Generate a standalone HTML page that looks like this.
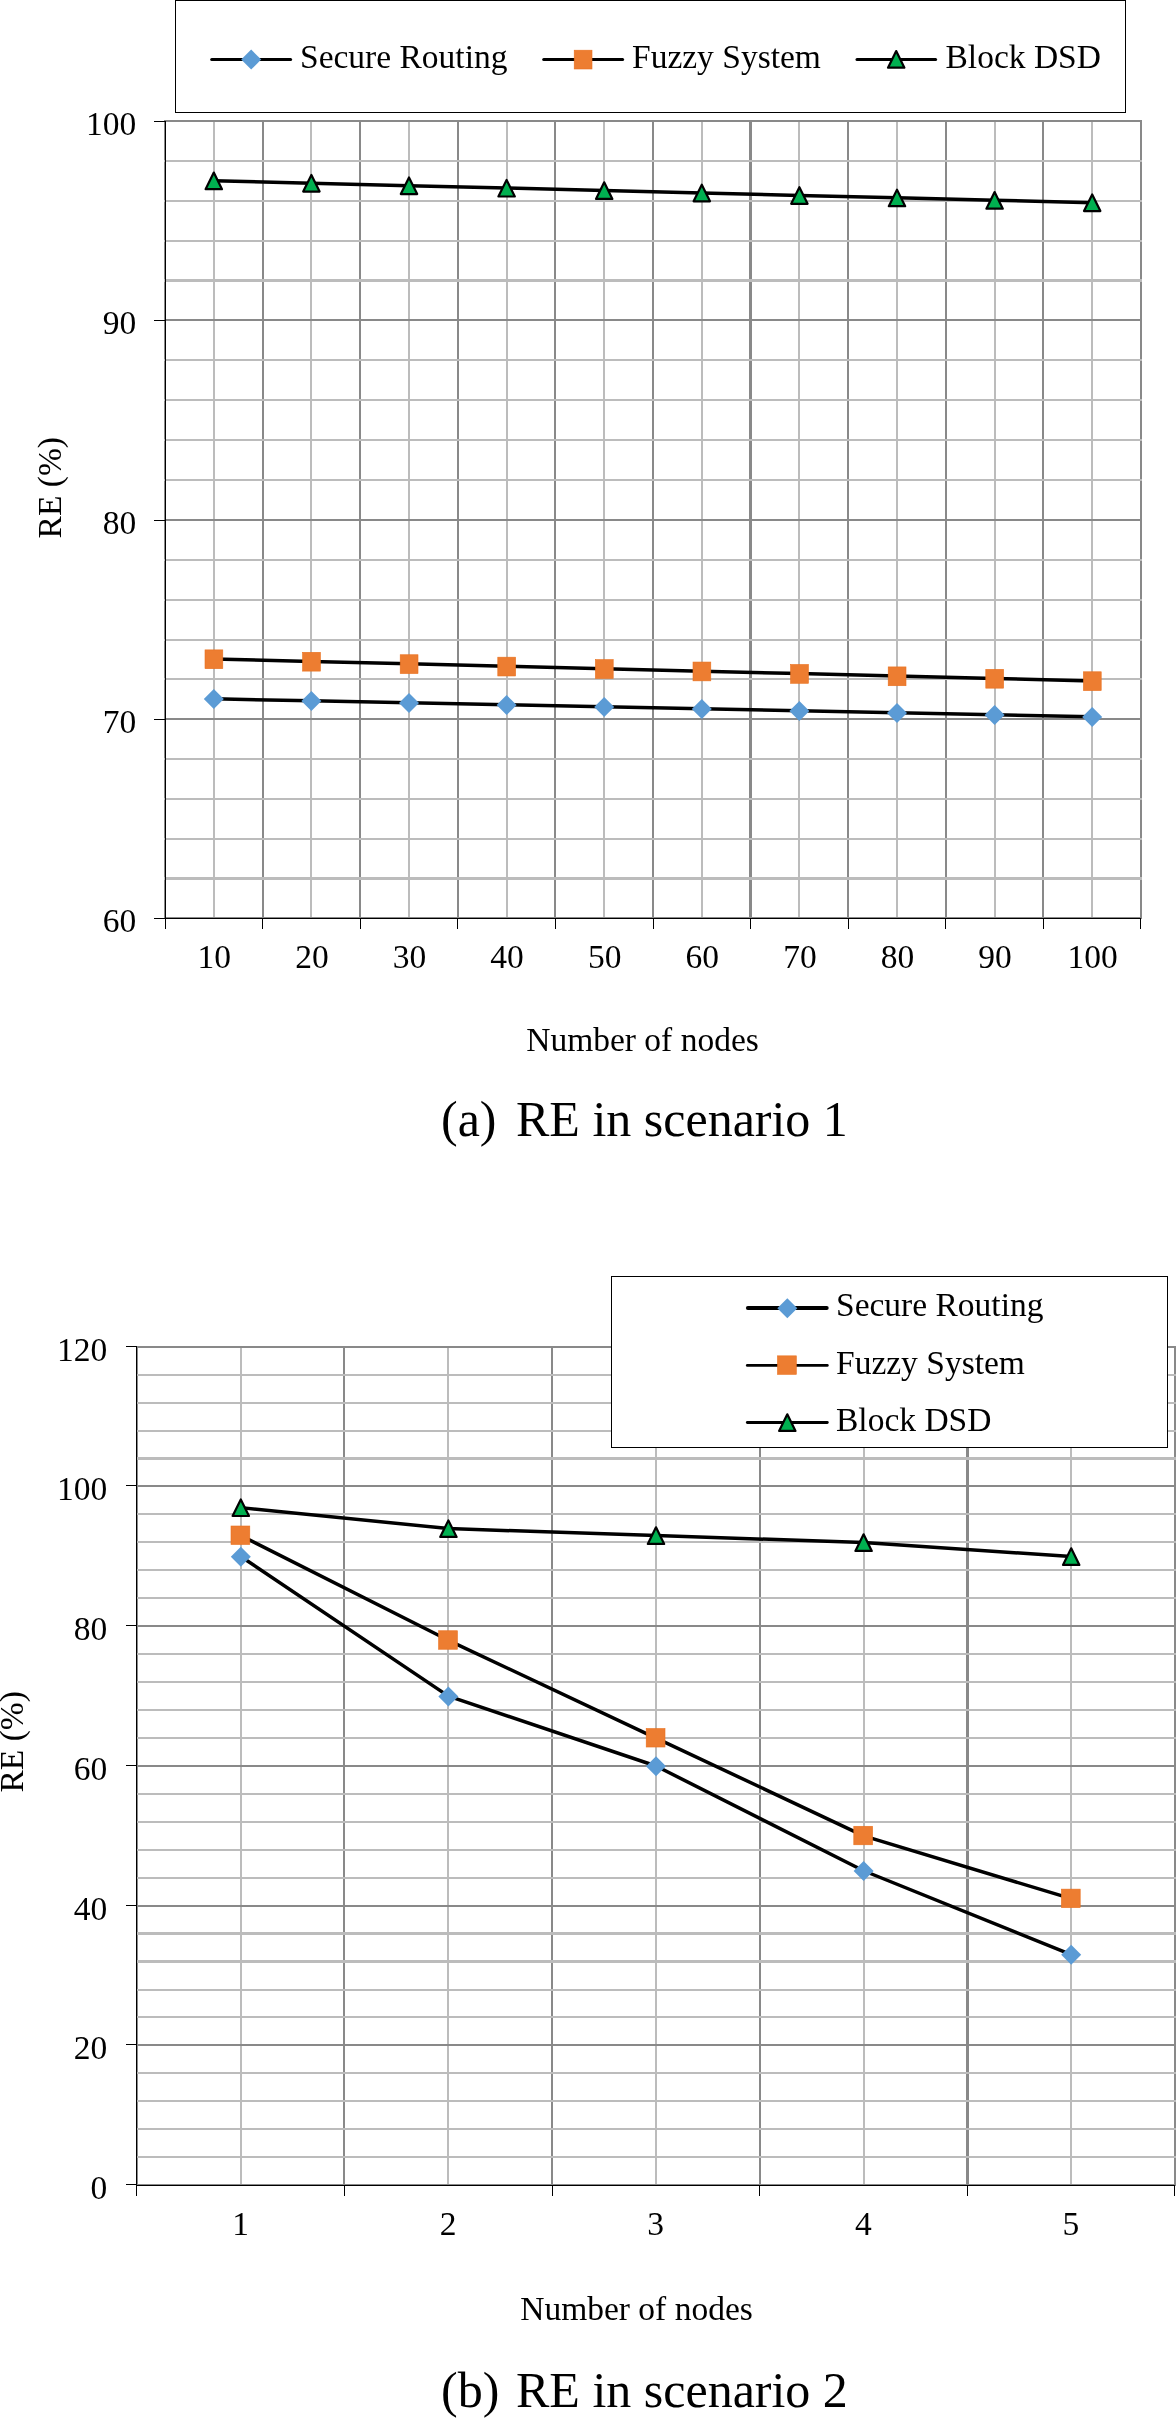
<!DOCTYPE html>
<html><head><meta charset="utf-8"><title>RE charts</title>
<style>html,body{margin:0;padding:0;background:#fff;width:1176px;height:2418px;overflow:hidden}svg{display:block;will-change:transform}text{font-family:"Liberation Serif",serif}</style>
</head><body>
<svg width="1176" height="2418" viewBox="0 0 1176 2418">
<rect width="1176" height="2418" fill="#fff"/>
<g font-family='"Liberation Serif", serif' fill="#000">
<rect x="213" y="120" width="2" height="798" fill="#bcbcbc"/>
<rect x="310" y="120" width="2" height="798" fill="#bcbcbc"/>
<rect x="408" y="120" width="2" height="798" fill="#bcbcbc"/>
<rect x="506" y="120" width="2" height="798" fill="#bcbcbc"/>
<rect x="603" y="120" width="2" height="798" fill="#bcbcbc"/>
<rect x="701" y="120" width="2" height="798" fill="#bcbcbc"/>
<rect x="798" y="120" width="2" height="798" fill="#bcbcbc"/>
<rect x="896" y="120" width="2" height="798" fill="#bcbcbc"/>
<rect x="994" y="120" width="2" height="798" fill="#bcbcbc"/>
<rect x="1091" y="120" width="2" height="798" fill="#bcbcbc"/>
<rect x="164" y="120" width="2" height="798" fill="#898989"/>
<rect x="262" y="120" width="2" height="798" fill="#898989"/>
<rect x="359" y="120" width="2" height="798" fill="#898989"/>
<rect x="457" y="120" width="2" height="798" fill="#898989"/>
<rect x="554" y="120" width="2" height="798" fill="#898989"/>
<rect x="652" y="120" width="2" height="798" fill="#898989"/>
<rect x="749" y="120" width="3" height="798" fill="#898989"/>
<rect x="847" y="120" width="2" height="798" fill="#898989"/>
<rect x="945" y="120" width="2" height="798" fill="#898989"/>
<rect x="1042" y="120" width="2" height="798" fill="#898989"/>
<rect x="1140" y="120" width="2" height="798" fill="#898989"/>
<rect x="164" y="160" width="978" height="2" fill="#bcbcbc"/>
<rect x="164" y="200" width="978" height="2" fill="#bcbcbc"/>
<rect x="164" y="240" width="978" height="2" fill="#bcbcbc"/>
<rect x="164" y="279" width="978" height="3" fill="#bcbcbc"/>
<rect x="164" y="359" width="978" height="2" fill="#bcbcbc"/>
<rect x="164" y="399" width="978" height="2" fill="#bcbcbc"/>
<rect x="164" y="439" width="978" height="2" fill="#bcbcbc"/>
<rect x="164" y="479" width="978" height="2" fill="#bcbcbc"/>
<rect x="164" y="559" width="978" height="2" fill="#bcbcbc"/>
<rect x="164" y="599" width="978" height="2" fill="#bcbcbc"/>
<rect x="164" y="639" width="978" height="2" fill="#bcbcbc"/>
<rect x="164" y="678" width="978" height="2" fill="#bcbcbc"/>
<rect x="164" y="758" width="978" height="2" fill="#bcbcbc"/>
<rect x="164" y="798" width="978" height="2" fill="#bcbcbc"/>
<rect x="164" y="838" width="978" height="2" fill="#bcbcbc"/>
<rect x="164" y="877" width="978" height="3" fill="#bcbcbc"/>
<rect x="164" y="120" width="978" height="2" fill="#898989"/>
<rect x="164" y="319" width="978" height="2" fill="#898989"/>
<rect x="164" y="519" width="978" height="2" fill="#898989"/>
<rect x="164" y="718" width="978" height="2" fill="#898989"/>
<rect x="164" y="917" width="978" height="2" fill="#898989"/>
<rect x="165" y="121" width="1" height="798" fill="#000"/>
<rect x="165" y="918" width="976" height="1" fill="#000"/>
<rect x="154" y="121" width="11" height="1" fill="#000"/>
<rect x="154" y="320" width="11" height="1" fill="#000"/>
<rect x="154" y="520" width="11" height="1" fill="#000"/>
<rect x="154" y="719" width="11" height="1" fill="#000"/>
<rect x="154" y="918" width="11" height="1" fill="#000"/>
<rect x="165" y="918" width="1" height="11" fill="#000"/>
<rect x="262" y="918" width="1" height="11" fill="#000"/>
<rect x="360" y="918" width="1" height="11" fill="#000"/>
<rect x="457" y="918" width="1" height="11" fill="#000"/>
<rect x="555" y="918" width="1" height="11" fill="#000"/>
<rect x="653" y="918" width="1" height="11" fill="#000"/>
<rect x="750" y="918" width="1" height="11" fill="#000"/>
<rect x="848" y="918" width="1" height="11" fill="#000"/>
<rect x="945" y="918" width="1" height="11" fill="#000"/>
<rect x="1043" y="918" width="1" height="11" fill="#000"/>
<rect x="1140" y="918" width="1" height="11" fill="#000"/>
<polyline points="213.80,698.83 311.40,700.82 409.00,702.81 506.60,704.80 604.20,706.80 701.80,708.79 799.40,710.78 897.00,712.77 994.60,714.77 1092.20,716.76" fill="none" stroke="#000" stroke-width="3.5" stroke-linejoin="round" stroke-linecap="round"/>
<polyline points="213.80,658.98 311.40,661.41 409.00,663.85 506.60,666.28 604.20,668.72 701.80,671.15 799.40,673.59 897.00,676.02 994.60,678.46 1092.20,680.89" fill="none" stroke="#000" stroke-width="3.5" stroke-linejoin="round" stroke-linecap="round"/>
<polyline points="213.80,180.77 311.40,183.21 409.00,185.65 506.60,188.08 604.20,190.52 701.80,192.95 799.40,195.39 897.00,197.82 994.60,200.26 1092.20,202.69" fill="none" stroke="#000" stroke-width="3.5" stroke-linejoin="round" stroke-linecap="round"/>
<path d="M213.80 689.12L223.80 699.12L213.80 709.12L203.80 699.12Z" fill="#5b9bd5"/>
<path d="M311.40 691.12L321.40 701.12L311.40 711.12L301.40 701.12Z" fill="#5b9bd5"/>
<path d="M409.00 693.11L419.00 703.11L409.00 713.11L399.00 703.11Z" fill="#5b9bd5"/>
<path d="M506.60 695.10L516.60 705.10L506.60 715.10L496.60 705.10Z" fill="#5b9bd5"/>
<path d="M604.20 697.10L614.20 707.10L604.20 717.10L594.20 707.10Z" fill="#5b9bd5"/>
<path d="M701.80 699.09L711.80 709.09L701.80 719.09L691.80 709.09Z" fill="#5b9bd5"/>
<path d="M799.40 701.08L809.40 711.08L799.40 721.08L789.40 711.08Z" fill="#5b9bd5"/>
<path d="M897.00 703.07L907.00 713.07L897.00 723.07L887.00 713.07Z" fill="#5b9bd5"/>
<path d="M994.60 705.07L1004.60 715.07L994.60 725.07L984.60 715.07Z" fill="#5b9bd5"/>
<path d="M1092.20 707.06L1102.20 717.06L1092.20 727.06L1082.20 717.06Z" fill="#5b9bd5"/>
<rect x="205.00" y="649.88" width="17.8" height="18.8" fill="#ed7d31" stroke="#e9711f" stroke-width="0.6"/>
<rect x="302.60" y="652.31" width="17.8" height="18.8" fill="#ed7d31" stroke="#e9711f" stroke-width="0.6"/>
<rect x="400.20" y="654.75" width="17.8" height="18.8" fill="#ed7d31" stroke="#e9711f" stroke-width="0.6"/>
<rect x="497.80" y="657.18" width="17.8" height="18.8" fill="#ed7d31" stroke="#e9711f" stroke-width="0.6"/>
<rect x="595.40" y="659.62" width="17.8" height="18.8" fill="#ed7d31" stroke="#e9711f" stroke-width="0.6"/>
<rect x="693.00" y="662.05" width="17.8" height="18.8" fill="#ed7d31" stroke="#e9711f" stroke-width="0.6"/>
<rect x="790.60" y="664.49" width="17.8" height="18.8" fill="#ed7d31" stroke="#e9711f" stroke-width="0.6"/>
<rect x="888.20" y="666.92" width="17.8" height="18.8" fill="#ed7d31" stroke="#e9711f" stroke-width="0.6"/>
<rect x="985.80" y="669.36" width="17.8" height="18.8" fill="#ed7d31" stroke="#e9711f" stroke-width="0.6"/>
<rect x="1083.40" y="671.79" width="17.8" height="18.8" fill="#ed7d31" stroke="#e9711f" stroke-width="0.6"/>
<path d="M213.80 172.57L222.00 189.17L205.60 189.17Z" fill="#00b050" stroke="#000" stroke-width="2.2" stroke-linejoin="round"/>
<path d="M311.40 175.01L319.60 191.61L303.20 191.61Z" fill="#00b050" stroke="#000" stroke-width="2.2" stroke-linejoin="round"/>
<path d="M409.00 177.45L417.20 194.05L400.80 194.05Z" fill="#00b050" stroke="#000" stroke-width="2.2" stroke-linejoin="round"/>
<path d="M506.60 179.88L514.80 196.48L498.40 196.48Z" fill="#00b050" stroke="#000" stroke-width="2.2" stroke-linejoin="round"/>
<path d="M604.20 182.32L612.40 198.92L596.00 198.92Z" fill="#00b050" stroke="#000" stroke-width="2.2" stroke-linejoin="round"/>
<path d="M701.80 184.75L710.00 201.35L693.60 201.35Z" fill="#00b050" stroke="#000" stroke-width="2.2" stroke-linejoin="round"/>
<path d="M799.40 187.19L807.60 203.79L791.20 203.79Z" fill="#00b050" stroke="#000" stroke-width="2.2" stroke-linejoin="round"/>
<path d="M897.00 189.62L905.20 206.22L888.80 206.22Z" fill="#00b050" stroke="#000" stroke-width="2.2" stroke-linejoin="round"/>
<path d="M994.60 192.06L1002.80 208.66L986.40 208.66Z" fill="#00b050" stroke="#000" stroke-width="2.2" stroke-linejoin="round"/>
<path d="M1092.20 194.49L1100.40 211.09L1084.00 211.09Z" fill="#00b050" stroke="#000" stroke-width="2.2" stroke-linejoin="round"/>
<text x="136.2" y="135.3" font-size="33.5" text-anchor="end">100</text>
<text x="136.2" y="334.3" font-size="33.5" text-anchor="end">90</text>
<text x="136.2" y="534.3" font-size="33.5" text-anchor="end">80</text>
<text x="136.2" y="733.3" font-size="33.5" text-anchor="end">70</text>
<text x="136.2" y="932.3" font-size="33.5" text-anchor="end">60</text>
<text x="214.3" y="967.5" font-size="33.5" text-anchor="middle">10</text>
<text x="311.9" y="967.5" font-size="33.5" text-anchor="middle">20</text>
<text x="409.5" y="967.5" font-size="33.5" text-anchor="middle">30</text>
<text x="507.1" y="967.5" font-size="33.5" text-anchor="middle">40</text>
<text x="604.7" y="967.5" font-size="33.5" text-anchor="middle">50</text>
<text x="702.3" y="967.5" font-size="33.5" text-anchor="middle">60</text>
<text x="799.9" y="967.5" font-size="33.5" text-anchor="middle">70</text>
<text x="897.5" y="967.5" font-size="33.5" text-anchor="middle">80</text>
<text x="995.1" y="967.5" font-size="33.5" text-anchor="middle">90</text>
<text x="1092.7" y="967.5" font-size="33.5" text-anchor="middle">100</text>
<text x="642.5" y="1051" font-size="33.5" text-anchor="middle">Number of nodes</text>
<text transform="translate(61 487.7) rotate(-90)" font-size="33.5" text-anchor="middle">RE (%)</text>
<rect x="175.5" y="0.5" width="950" height="112" fill="#fff" stroke="#000" stroke-width="1"/>
<line x1="211.7" y1="59.5" x2="290.6" y2="59.5" stroke="#000" stroke-width="3" stroke-linecap="round"/>
<path d="M251.20 49.60L261.20 59.60L251.20 69.60L241.20 59.60Z" fill="#5b9bd5"/>
<text x="300" y="67.5" font-size="33.5">Secure Routing</text>
<line x1="543.7" y1="59.5" x2="622.5999999999999" y2="59.5" stroke="#000" stroke-width="3" stroke-linecap="round"/>
<rect x="574.20" y="50.20" width="17.8" height="18.8" fill="#ed7d31" stroke="#e9711f" stroke-width="0.6"/>
<text x="632" y="67.5" font-size="33.5">Fuzzy System</text>
<line x1="857.0" y1="59.5" x2="935.5999999999999" y2="59.5" stroke="#000" stroke-width="3" stroke-linecap="round"/>
<path d="M896.20 51.10L904.40 67.70L888.00 67.70Z" fill="#00b050" stroke="#000" stroke-width="2.2" stroke-linejoin="round"/>
<text x="945.5" y="67.5" font-size="33.5">Block DSD</text>
<text x="441" y="1135.5" font-size="50">(a)</text>
<text x="516" y="1135.5" font-size="50">RE in scenario 1</text>
<rect x="240" y="1346" width="2" height="839" fill="#bcbcbc"/>
<rect x="447" y="1346" width="2" height="839" fill="#bcbcbc"/>
<rect x="655" y="1346" width="2" height="839" fill="#bcbcbc"/>
<rect x="863" y="1346" width="2" height="839" fill="#bcbcbc"/>
<rect x="1070" y="1346" width="2" height="839" fill="#bcbcbc"/>
<rect x="136" y="1346" width="2" height="839" fill="#898989"/>
<rect x="343" y="1346" width="2" height="839" fill="#898989"/>
<rect x="551" y="1346" width="2" height="839" fill="#898989"/>
<rect x="759" y="1346" width="2" height="839" fill="#898989"/>
<rect x="966" y="1346" width="3" height="839" fill="#898989"/>
<rect x="1174" y="1346" width="2" height="839" fill="#898989"/>
<rect x="136" y="1374" width="1040" height="2" fill="#bcbcbc"/>
<rect x="136" y="1402" width="1040" height="2" fill="#bcbcbc"/>
<rect x="136" y="1430" width="1040" height="2" fill="#bcbcbc"/>
<rect x="136" y="1457" width="1040" height="3" fill="#bcbcbc"/>
<rect x="136" y="1513" width="1040" height="2" fill="#bcbcbc"/>
<rect x="136" y="1541" width="1040" height="2" fill="#bcbcbc"/>
<rect x="136" y="1569" width="1040" height="2" fill="#bcbcbc"/>
<rect x="136" y="1597" width="1040" height="2" fill="#bcbcbc"/>
<rect x="136" y="1653" width="1040" height="2" fill="#bcbcbc"/>
<rect x="136" y="1681" width="1040" height="2" fill="#bcbcbc"/>
<rect x="136" y="1709" width="1040" height="2" fill="#bcbcbc"/>
<rect x="136" y="1737" width="1040" height="2" fill="#bcbcbc"/>
<rect x="136" y="1793" width="1040" height="2" fill="#bcbcbc"/>
<rect x="136" y="1821" width="1040" height="2" fill="#bcbcbc"/>
<rect x="136" y="1849" width="1040" height="2" fill="#bcbcbc"/>
<rect x="136" y="1877" width="1040" height="2" fill="#bcbcbc"/>
<rect x="136" y="1932" width="1040" height="3" fill="#bcbcbc"/>
<rect x="136" y="1960" width="1040" height="3" fill="#bcbcbc"/>
<rect x="136" y="1989" width="1040" height="2" fill="#bcbcbc"/>
<rect x="136" y="2016" width="1040" height="2" fill="#bcbcbc"/>
<rect x="136" y="2072" width="1040" height="2" fill="#bcbcbc"/>
<rect x="136" y="2100" width="1040" height="2" fill="#bcbcbc"/>
<rect x="136" y="2128" width="1040" height="2" fill="#bcbcbc"/>
<rect x="136" y="2156" width="1040" height="2" fill="#bcbcbc"/>
<rect x="136" y="1346" width="1040" height="2" fill="#898989"/>
<rect x="136" y="1485" width="1040" height="2" fill="#898989"/>
<rect x="136" y="1625" width="1040" height="2" fill="#898989"/>
<rect x="136" y="1765" width="1040" height="2" fill="#898989"/>
<rect x="136" y="1905" width="1040" height="2" fill="#898989"/>
<rect x="136" y="2044" width="1040" height="2" fill="#898989"/>
<rect x="136" y="2184" width="1040" height="2" fill="#898989"/>
<rect x="136" y="1346" width="1" height="840" fill="#000"/>
<rect x="136" y="2185" width="1039" height="1" fill="#000"/>
<rect x="126" y="1346" width="10" height="1" fill="#000"/>
<rect x="126" y="1485" width="10" height="1" fill="#000"/>
<rect x="126" y="1625" width="10" height="1" fill="#000"/>
<rect x="126" y="1765" width="10" height="1" fill="#000"/>
<rect x="126" y="1905" width="10" height="1" fill="#000"/>
<rect x="126" y="2044" width="10" height="1" fill="#000"/>
<rect x="126" y="2184" width="10" height="1" fill="#000"/>
<rect x="136" y="2185" width="1" height="11" fill="#000"/>
<rect x="344" y="2185" width="1" height="11" fill="#000"/>
<rect x="552" y="2185" width="1" height="11" fill="#000"/>
<rect x="759" y="2185" width="1" height="11" fill="#000"/>
<rect x="967" y="2185" width="1" height="11" fill="#000"/>
<rect x="1174" y="2185" width="1" height="11" fill="#000"/>
<polyline points="240.80,1556.50 448.40,1696.17 656.00,1766.00 863.60,1870.75 1071.20,1954.55" fill="none" stroke="#000" stroke-width="3.5" stroke-linejoin="round" stroke-linecap="round"/>
<polyline points="240.80,1535.55 448.40,1640.30 656.00,1738.07 863.60,1835.83 1071.20,1898.68" fill="none" stroke="#000" stroke-width="3.5" stroke-linejoin="round" stroke-linecap="round"/>
<polyline points="240.80,1507.62 448.40,1528.57 656.00,1535.55 863.60,1542.53 1071.20,1556.50" fill="none" stroke="#000" stroke-width="3.5" stroke-linejoin="round" stroke-linecap="round"/>
<path d="M240.80 1546.80L250.80 1556.80L240.80 1566.80L230.80 1556.80Z" fill="#5b9bd5"/>
<path d="M448.40 1686.47L458.40 1696.47L448.40 1706.47L438.40 1696.47Z" fill="#5b9bd5"/>
<path d="M656.00 1756.30L666.00 1766.30L656.00 1776.30L646.00 1766.30Z" fill="#5b9bd5"/>
<path d="M863.60 1861.05L873.60 1871.05L863.60 1881.05L853.60 1871.05Z" fill="#5b9bd5"/>
<path d="M1071.20 1944.85L1081.20 1954.85L1071.20 1964.85L1061.20 1954.85Z" fill="#5b9bd5"/>
<rect x="231.00" y="1526.00" width="18.8" height="18.5" fill="#ed7d31" stroke="#e9711f" stroke-width="0.6"/>
<rect x="438.60" y="1630.75" width="18.8" height="18.5" fill="#ed7d31" stroke="#e9711f" stroke-width="0.6"/>
<rect x="646.20" y="1728.52" width="18.8" height="18.5" fill="#ed7d31" stroke="#e9711f" stroke-width="0.6"/>
<rect x="853.80" y="1826.28" width="18.8" height="18.5" fill="#ed7d31" stroke="#e9711f" stroke-width="0.6"/>
<rect x="1061.40" y="1889.13" width="18.8" height="18.5" fill="#ed7d31" stroke="#e9711f" stroke-width="0.6"/>
<path d="M240.80 1499.42L249.00 1516.02L232.60 1516.02Z" fill="#00b050" stroke="#000" stroke-width="2.2" stroke-linejoin="round"/>
<path d="M448.40 1520.37L456.60 1536.97L440.20 1536.97Z" fill="#00b050" stroke="#000" stroke-width="2.2" stroke-linejoin="round"/>
<path d="M656.00 1527.35L664.20 1543.95L647.80 1543.95Z" fill="#00b050" stroke="#000" stroke-width="2.2" stroke-linejoin="round"/>
<path d="M863.60 1534.33L871.80 1550.93L855.40 1550.93Z" fill="#00b050" stroke="#000" stroke-width="2.2" stroke-linejoin="round"/>
<path d="M1071.20 1548.30L1079.40 1564.90L1063.00 1564.90Z" fill="#00b050" stroke="#000" stroke-width="2.2" stroke-linejoin="round"/>
<text x="107.3" y="1361.3" font-size="33.5" text-anchor="end">120</text>
<text x="107.3" y="1500.3" font-size="33.5" text-anchor="end">100</text>
<text x="107.3" y="1640.3" font-size="33.5" text-anchor="end">80</text>
<text x="107.3" y="1780.3" font-size="33.5" text-anchor="end">60</text>
<text x="107.3" y="1920.3" font-size="33.5" text-anchor="end">40</text>
<text x="107.3" y="2059.3" font-size="33.5" text-anchor="end">20</text>
<text x="107.3" y="2199.3" font-size="33.5" text-anchor="end">0</text>
<text x="240.5" y="2234.7" font-size="33.5" text-anchor="middle">1</text>
<text x="448.1" y="2234.7" font-size="33.5" text-anchor="middle">2</text>
<text x="655.7" y="2234.7" font-size="33.5" text-anchor="middle">3</text>
<text x="863.3" y="2234.7" font-size="33.5" text-anchor="middle">4</text>
<text x="1070.9" y="2234.7" font-size="33.5" text-anchor="middle">5</text>
<text x="636.5" y="2319.7" font-size="33.5" text-anchor="middle">Number of nodes</text>
<text transform="translate(23 1741.8) rotate(-90)" font-size="33.5" text-anchor="middle">RE (%)</text>
<rect x="611.5" y="1276.5" width="556" height="171" fill="#fff" stroke="#000" stroke-width="1"/>
<line x1="747.85" y1="1308.0" x2="826.75" y2="1308.0" stroke="#000" stroke-width="3.9" stroke-linecap="round"/>
<path d="M787.30 1298.30L797.30 1308.30L787.30 1318.30L777.30 1308.30Z" fill="#5b9bd5"/>
<text x="836" y="1316.2" font-size="33.5">Secure Routing</text>
<line x1="747.30" y1="1365.4" x2="827.30" y2="1365.4" stroke="#000" stroke-width="2.8" stroke-linecap="round"/>
<rect x="777.50" y="1355.85" width="18.8" height="18.5" fill="#ed7d31" stroke="#e9711f" stroke-width="0.6"/>
<text x="836" y="1373.6" font-size="33.5">Fuzzy System</text>
<line x1="747.30" y1="1422.5" x2="827.30" y2="1422.5" stroke="#000" stroke-width="2.8" stroke-linecap="round"/>
<path d="M787.30 1414.30L795.50 1430.90L779.10 1430.90Z" fill="#00b050" stroke="#000" stroke-width="2.2" stroke-linejoin="round"/>
<text x="836" y="1430.7" font-size="33.5">Block DSD</text>
<text x="441" y="2406.8" font-size="50">(b)</text>
<text x="516" y="2406.8" font-size="50">RE in scenario 2</text>
</g></svg>
</body></html>
